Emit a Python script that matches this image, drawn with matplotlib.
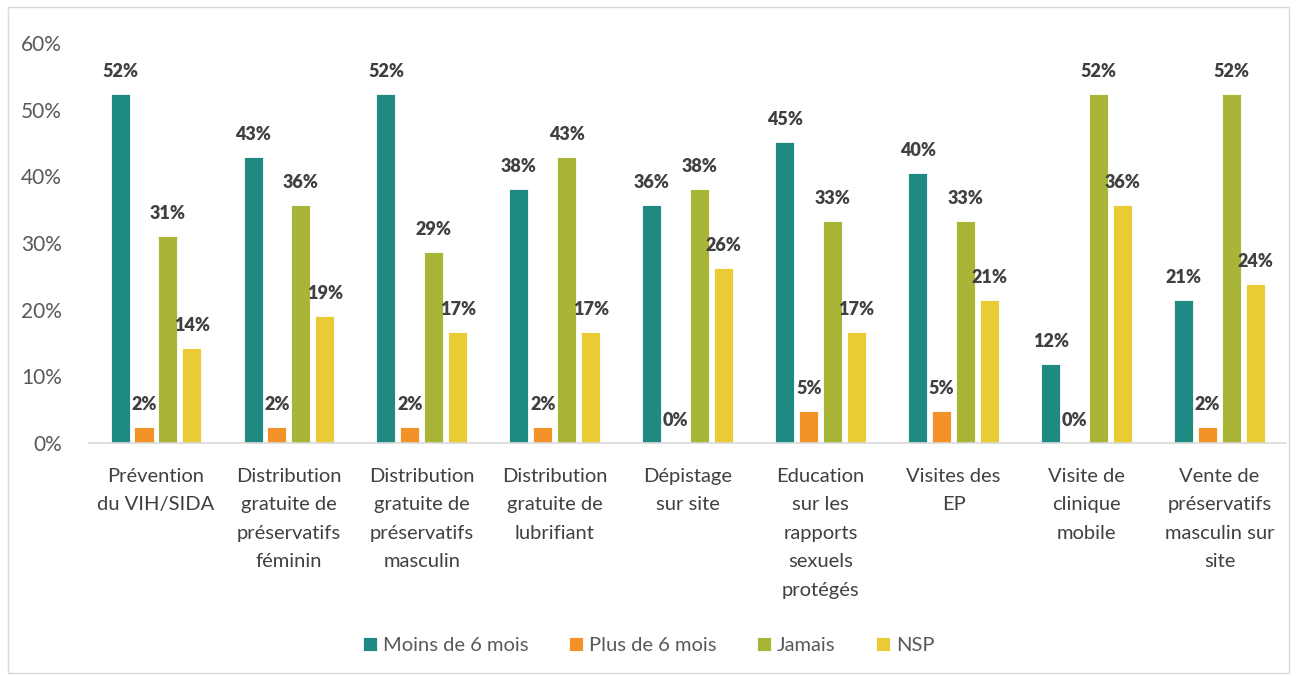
import matplotlib.pyplot as plt
import matplotlib.ticker as ticker
import numpy as np
from matplotlib.patches import Rectangle

plt.rcParams["font.family"] = ["Lato", "DejaVu Sans"]

categories = [
    "Prévention\ndu VIH/SIDA",
    "Distribution\ngratuite de\npréservatifs\nféminin",
    "Distribution\ngratuite de\npréservatifs\nmasculin",
    "Distribution\ngratuite de\nlubrifiant",
    "Dépistage\nsur site",
    "Education\nsur les\nrapports\nsexuels\nprotégés",
    "Visites des\nEP",
    "Visite de\nclinique\nmobile",
    "Vente de\npréservatifs\nmasculin sur\nsite",
]
moins_6 = [52.4, 42.9, 52.4, 38.1, 35.7, 45.2, 40.5, 11.9, 21.4]
plus_6 = [2.4, 2.4, 2.4, 2.4, 0.0, 4.8, 4.8, 0.0, 2.4]
jamais = [31.0, 35.7, 28.6, 42.9, 38.1, 33.3, 33.3, 52.4, 52.4]
nsp = [14.3, 19.0, 16.7, 16.7, 26.2, 16.7, 21.4, 35.7, 23.8]

series = [
    ("Moins de 6 mois", moins_6, "#1E8A82"),
    ("Plus de 6 mois", plus_6, "#F4922A"),
    ("Jamais", jamais, "#A8B537"),
    ("NSP", nsp, "#E9CB35"),
]

fig = plt.figure(figsize=(12.97, 6.76), dpi=100)
ax = fig.add_axes([0.069, 0.3447, 0.9225, 0.5917])

x = np.arange(len(categories))
width = 0.143
step = 0.18
offsets = (np.arange(len(series)) - 1.5) * step

for off, (name, vals, color) in zip(offsets, series):
    bars = ax.bar(x + off, vals, width, color=color, label=name,
                  edgecolor="white", linewidth=0.6)
    for bar, v in zip(bars, vals):
        ax.annotate(f"{v:.0f}%", (bar.get_x() + bar.get_width() / 2, v),
                    xytext=(0, 10), textcoords="offset points",
                    ha="center", va="bottom", fontsize=13,
                    fontweight="heavy", color="#404040")

ax.set_xlim(-0.5, len(categories) - 0.5)
ax.set_ylim(0, 60)
ax.yaxis.set_major_locator(ticker.MultipleLocator(10))
ax.yaxis.set_major_formatter(ticker.FuncFormatter(lambda v, _: f"{v:.0f}%"))
ax.set_xticks(x)
ax.set_xticklabels(categories, fontsize=14.5, color="#404040", linespacing=1.82,
                   va="top")
ax.tick_params(axis="x", length=0, pad=18)
ax.tick_params(axis="y", length=0, pad=20, labelsize=15, labelcolor="#595959")
for side in ["top", "right", "left"]:
    ax.spines[side].set_visible(False)
ax.spines["bottom"].set_color("#D9D9D9")
ax.spines["bottom"].set_linewidth(1.2)

fig.legend(loc="center", bbox_to_anchor=(0.5, 0.045), ncol=4, frameon=False,
           fontsize=14.5, handlelength=0.7, handleheight=0.7,
           handletextpad=0.3, columnspacing=2.0, labelcolor="#595959")

fig.patches.append(Rectangle((0.006, 0.004), 0.988, 0.985, transform=fig.transFigure,
                             fill=False, edgecolor="#D9D9D9", linewidth=1))

fig.savefig("out.png", dpi=100)
